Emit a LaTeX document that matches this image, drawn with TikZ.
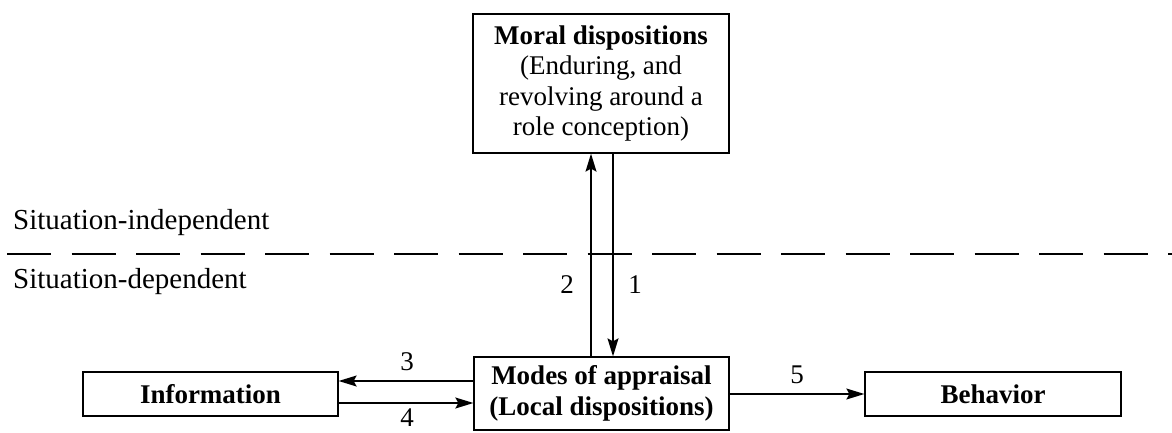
\documentclass[tikz,border=0pt]{standalone}
\usepackage{fontspec}
\setmainfont{Liberation Serif}
\usetikzlibrary{arrows.meta}
\begin{document}
\begin{tikzpicture}[x=1pt,y=1pt,
  box/.style={draw, line width=1.3pt, inner sep=0pt, align=center, font=\fontsize{27}{30.5}\selectfont},
  lab/.style={font=\fontsize{29}{30}\selectfont, inner sep=0pt},
  num/.style={font=\fontsize{27}{30}\selectfont, inner sep=0pt},
  arr/.style={line width=1.2pt, -{Stealth[length=18pt,width=11pt,inset=3pt]}}]
\useasboundingbox (0,0) rectangle (1172,432);
\node[box, minimum width=256pt, minimum height=139pt] (moral) at (601,348.5)
  {\textbf{Moral dispositions}\\(Enduring, and\\revolving around a\\role conception)};
\node[box, minimum width=255pt, minimum height=73pt] (modes) at (601.5,38.5)
  {\textbf{Modes of appraisal}\\\textbf{(Local dispositions)}};
\node[box, minimum width=255pt, minimum height=44pt] (info) at (210.5,38) {\textbf{Information}};
\node[box, minimum width=256pt, minimum height=44pt] (beh) at (993,38) {\textbf{Behavior}};
\node[lab, anchor=west] (si) at (13,209) {Situation-independent};
\node[lab, anchor=west] (sd) at (13,150) {Situation-dependent};
\coordinate (dl) at (7,178);
\coordinate (dr) at (1172,178);
\draw[line width=1.2pt, dash pattern=on 44pt off 20.5pt] (dl) -- (dr);
\draw[arr] (modes.west |- 0,51) -- (info.east |- 0,51);
\draw[arr] (info.east |- 0,29) -- (modes.west |- 0,29);
\draw[arr] (modes.east |- 0,38) -- (beh.west |- 0,38);
\draw[arr] (modes.north -| 591,0) -- (moral.south -| 591,0);
\draw[arr] (moral.south -| 613,0) -- (modes.north -| 613,0);
\node[num] (l3) at (407,70) {3};
\node[num] (l4) at (407,14) {4};
\node[num] (l5) at (797,57) {5};
\node[num] (l2) at (567,147) {2};
\node[num] (l1) at (635,147) {1};
\end{tikzpicture}
\end{document}
